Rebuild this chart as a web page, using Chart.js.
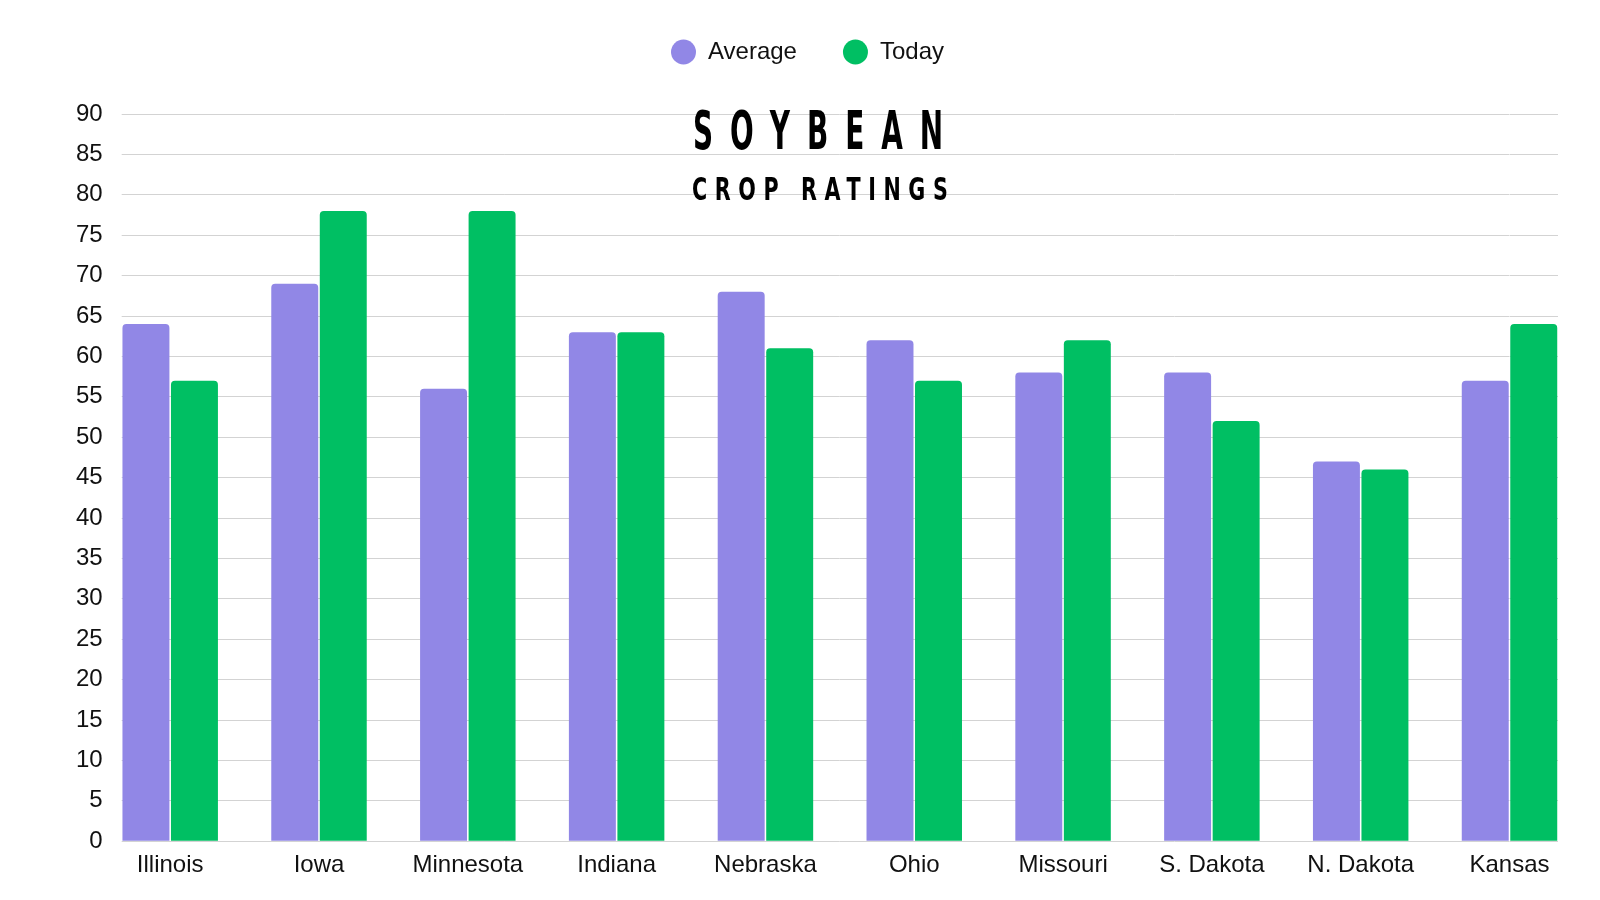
<!DOCTYPE html>
<html>
<head>
<meta charset="utf-8">
<title>Soybean Crop Ratings</title>
<script src="https://cdn.jsdelivr.net/npm/chart.js@4.4.1/dist/chart.umd.min.js"></script>
<style>
    html, body { margin: 0; padding: 0; background: #ffffff; }
    #wrap { position: relative; width: 1600px; height: 900px; }
    .head {
        position: absolute;
        font-family: "Liberation Sans Narrow", "DejaVu Sans Condensed", sans-serif;
        font-weight: bold;
        color: #000;
        white-space: nowrap;
        transform-origin: 0 0;
        line-height: 1;
    }
    #head1 { left: 693px; top: 104px; font-size: 31px; letter-spacing: 17px; transform: scaleY(1.73); }
    #head2 { left: 692px; top: 173px; font-size: 23px; letter-spacing: 7.6px; transform: scaleY(1.42); }
</style>
</head>
<body>
<div id="wrap">
    <canvas id="cropChart" width="1600" height="900"></canvas>
    <div class="head" id="head1">SOYBEAN</div>
    <div class="head" id="head2">CROP RATINGS</div>
</div>
<script>
const states = ['Illinois', 'Iowa', 'Minnesota', 'Indiana', 'Nebraska', 'Ohio', 'Missouri', 'S. Dakota', 'N. Dakota', 'Kansas'];
const averageRatings = [64, 69, 56, 63, 68, 62, 58, 58, 47, 57];
const todayRatings = [57, 78, 78, 63, 61, 57, 62, 52, 46, 64];
const yMin = 0;
const yMax = 90;
const yStep = 5;

const gridColor = '#d3d3d3';
const labelFont = { family: '"Liberation Sans", Arial, sans-serif', size: 24 };

// leave room between the legend and the plot, as in the original
const legendGap = {
    id: 'legendGap',
    beforeInit(chart) {
        const fit = chart.legend.fit;
        chart.legend.fit = function () {
            fit.call(this);
            this.height += 40;
        };
    }
};

const ctx = document.getElementById('cropChart').getContext('2d');
const cropChart = new Chart(ctx, {
    type: 'bar',
    data: {
        labels: states,
        datasets: [
            {
                label: 'Average',
                data: averageRatings,
                backgroundColor: '#9187e6',
                borderRadius: 4,
                borderSkipped: 'start',
                categoryPercentage: 0.652,
                barPercentage: 0.968,
                clip: false
            },
            {
                label: 'Today',
                data: todayRatings,
                backgroundColor: '#00bf63',
                borderRadius: 4,
                borderSkipped: 'start',
                categoryPercentage: 0.652,
                barPercentage: 0.968,
                clip: false
            }
        ]
    },
    plugins: [legendGap],
    options: {
        responsive: false,
        animation: false,
        devicePixelRatio: 1,
        layout: {
            padding: { left: 57, right: 42, top: -6, bottom: 10 }
        },
        scales: {
            x: {
                offset: false,
                grid: { display: false, drawTicks: false },
                border: { display: false },
                ticks: {
                    color: '#111',
                    font: labelFont,
                    padding: 10,
                    maxRotation: 0,
                    autoSkip: false
                }
            },
            y: {
                min: yMin,
                max: yMax,
                position: 'left',
                border: { display: false },
                grid: {
                    color: gridColor,
                    lineWidth: 1,
                    tickLength: 48.5
                },
                ticks: {
                    stepSize: yStep,
                    color: '#111',
                    font: labelFont,
                    padding: 19
                }
            },
            yRight: {
                min: yMin,
                max: yMax,
                position: 'right',
                border: { display: false },
                grid: {
                    color: gridColor,
                    lineWidth: 1,
                    drawOnChartArea: false,
                    tickLength: 48.5
                },
                ticks: {
                    stepSize: yStep,
                    display: false
                }
            }
        },
        plugins: {
            legend: {
                position: 'top',
                align: 'center',
                labels: {
                    usePointStyle: true,
                    pointStyle: 'circle',
                    boxHeight: 17.7,
                    pointStyleWidth: 25,
                    padding: 46,
                    color: '#111',
                    font: labelFont
                }
            },
            tooltip: { enabled: false },
            title: { display: false }
        }
    }
});
</script>
</body>
</html>
